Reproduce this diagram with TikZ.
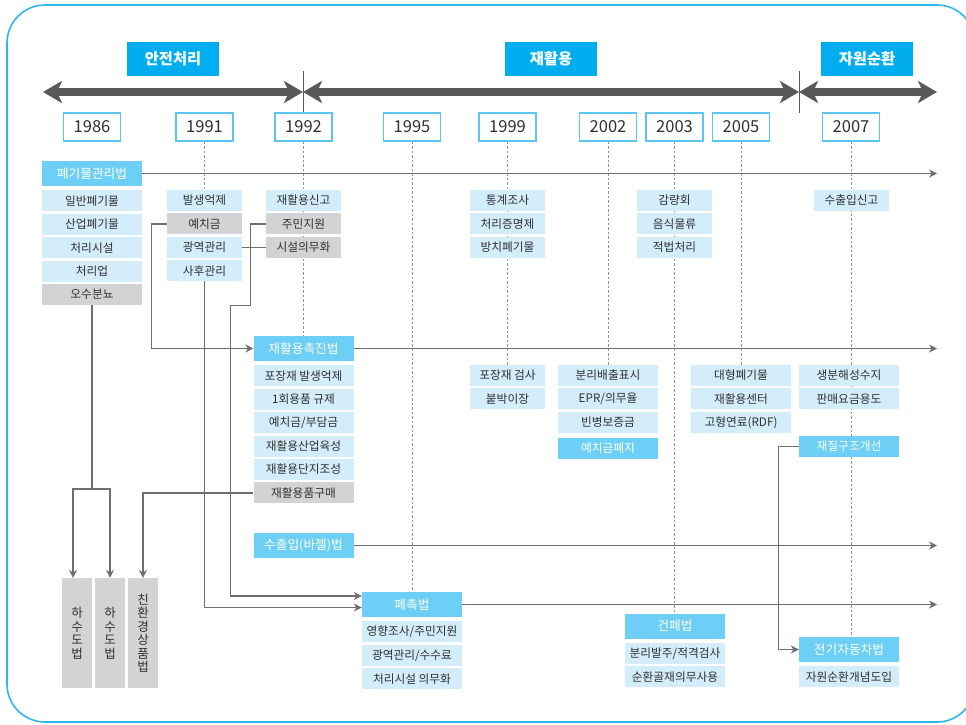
\documentclass[tikz,border=0pt]{standalone}
\usepackage{fontspec}
\setmainfont{Noto Sans CJK KR}
\usepackage{tikz}
\usetikzlibrary{positioning, arrows.meta, backgrounds}
\definecolor{hdrblue}{HTML}{00AEEF}
\definecolor{lawblue}{HTML}{6DCFF6}
\definecolor{itemblue}{HTML}{D4EDFA}
\definecolor{itemgray}{HTML}{D1D3D4}
\definecolor{yearline}{HTML}{5BC4F1}
\definecolor{panelblue}{HTML}{2DB8EB}
\definecolor{barc}{HTML}{58595B}
\definecolor{linec}{HTML}{6D6E70}
\definecolor{txt}{HTML}{303030}
\tikzset{
    >={Stealth[length=8pt,width=8pt]},
    panel/.style={draw=panelblue, line width=1.6pt, rounded corners=38pt},
    era/.style={
        fill=hdrblue, text=white, inner sep=0pt,
        font=\bfseries\fontsize{15.3}{17}\selectfont,
        minimum width=92pt, minimum height=34pt
    },
    year/.style={
        draw=yearline, line width=1.5pt, fill=white, text=txt, inner sep=0pt,
        font=\fontsize{16.5}{18}\selectfont,
        minimum width=57pt, minimum height=28pt
    },
    law/.style={
        fill=lawblue, text=white, inner sep=0pt,
        font=\fontsize{12.7}{14}\selectfont,
        minimum width=100pt, minimum height=25pt
    },
    item/.style={
        fill=itemblue, text=txt, inner sep=0pt,
        font=\fontsize{11.7}{13}\selectfont,
        minimum width=100pt, minimum height=21pt
    },
    narrow/.style={minimum width=75pt},
    oldbox/.style={fill=itemgray},
    newbox/.style={fill=lawblue, text=white},
    sidelaw/.style={
        fill=itemgray, text=txt, inner sep=0pt, align=center,
        font=\fontsize{12.5}{13.5}\selectfont,
        minimum width=30pt, minimum height=110pt
    },
    erabar/.style={
        draw=barc, line width=8pt,
        {Stealth[length=19pt,width=22pt,inset=5pt]}-{Stealth[length=19pt,width=22pt,inset=5pt]}
    },
    divider/.style={draw=barc, line width=1pt},
    flow/.style={draw=linec, line width=1.3pt, ->},
    link/.style={draw=linec, line width=1.3pt},
    guide/.style={draw=gray!85, line width=1pt, dash pattern=on 2.5pt off 2pt},
}

\begin{document}
\begin{tikzpicture}[x=1pt, y=-1pt]
    \useasboundingbox (0,0) rectangle (966,724);
    \draw[panel] (7,5) rectangle (975,722);

    \node[era] (safe)  at (173,59) {안전처리};
    \node[era] (reuse) at (551,59) {재활용};
    \node[era] (cycle) at (867,59) {자원순환};

    \coordinate (e0) at (43,92);
    \coordinate (e1) at (303,92);
    \coordinate (e2) at (799,92);
    \coordinate (e3) at (937,92);
    \draw[erabar] (e0) -- (e1);
    \draw[erabar] (e1) -- (e2);
    \draw[erabar] (e2) -- (e3);
    \draw[divider] ([yshift=21pt]e1) -- ([yshift=-21pt]e1);
    \draw[divider] ([yshift=21pt]e2) -- ([yshift=-21pt]e2);

    \node[year] (y1986) at (92,127)    {1986};
    \node[year] (y1991) at (204.5,127) {1991};
    \node[year] (y1992) at (303.5,127) {1992};
    \node[year] (y1995) at (412,127)   {1995};
    \node[year] (y1999) at (507.5,127) {1999};
    \node[year] (y2002) at (608,127)   {2002};
    \node[year] (y2003) at (674.5,127) {2003};
    \node[year] (y2005) at (741,127)   {2005};
    \node[year] (y2007) at (851,127)   {2007};

    \node[law]          (waste)   at (92,173.5)          {폐기물관리법};
    \node[item]         (gen86)   [below=4pt of waste]   {일반폐기물};
    \node[item]         (ind86)   [below=2pt of gen86]   {산업폐기물};
    \node[item]         (plant86) [below=2pt of ind86]   {처리시설};
    \node[item]         (biz86)   [below=2pt of plant86] {처리업};
    \node[item, oldbox] (sew86)   [below=2pt of biz86]   {오수분뇨};

    \node[item, narrow]         (ctl91)  at (204.5,200.5)        {발생억제};
    \node[item, narrow, oldbox] (dep91)  [below=2pt of ctl91]    {예치금};
    \node[item, narrow]         (reg91)  [below=2pt of dep91]    {광역관리};
    \node[item, narrow]         (post91) [below=2pt of reg91]    {사후관리};

    \node[item, narrow]         (rep92)  at (303.5,200.5)        {재활용신고};
    \node[item, narrow, oldbox] (aid92)  [below=2pt of rep92]    {주민지원};
    \node[item, narrow, oldbox] (fac92)  [below=2pt of aid92]    {시설의무화};

    \node[item, narrow] (stat99)  at (507.5,200.5)       {통계조사};
    \node[item, narrow] (cert99)  [below=2pt of stat99]  {처리증명제};
    \node[item, narrow] (idle99)  [below=2pt of cert99]  {방치폐기물};

    \node[item, narrow] (cut03)   at (674.5,200.5)       {감량회};
    \node[item, narrow] (food03)  [below=2pt of cut03]   {음식물류};
    \node[item, narrow] (legal03) [below=2pt of food03]  {적법처리};

    \node[item, narrow] (exp07)   at (851.5,200.5)       {수출입신고};

    \node[law]          (rp)     at (303.5,348.5)       {재활용촉진법};
    \node[item]         (pkg92)  [below=4pt of rp]      {포장재 발생억제};
    \node[item]         (one92)  [below=2pt of pkg92]   {1회용품 규제};
    \node[item]         (fee92)  [below=2pt of one92]   {예치금/부담금};
    \node[item]         (ind92)  [below=2pt of fee92]   {재활용산업육성};
    \node[item]         (park92) [below=2pt of ind92]   {재활용단지조성};
    \node[item, oldbox] (buy)    [below=2pt of park92]  {재활용품구매};

    \node[item, narrow] (pack99)  at (507.5,375.5)       {포장재 검사};
    \node[item, narrow] (built99) [below=2pt of pack99]  {붙박이장};

    \node[item]         (sep02)    at (608,375.5)          {분리배출표시};
    \node[item]         (epr02)    [below=2pt of sep02]    {EPR/의무율};
    \node[item]         (bottle02) [below=2pt of epr02]    {빈병보증금};
    \node[item, newbox] (end02)    [below=4.5pt of bottle02] {예치금폐지};

    \node[item] (big05)  at (741,375.5)         {대형폐기물};
    \node[item] (ctr05)  [below=2pt of big05]   {재활용센터};
    \node[item] (rdf05)  [below=2pt of ctr05]   {고형연료(RDF)};

    \node[item]         (bio07)  at (849,375.5)         {생분해성수지};
    \node[item]         (sale07) [below=2pt of bio07]   {판매요금용도};
    \node[item, newbox] (mat07)  at (849,446.5)         {재질구조개선};

    \node[law]  (basel) at (303.5,545.5) {수출입(바젤)법};

    \node[law]  (fac)    at (412,604.5)         {폐촉법};
    \node[item] (imp95)  [below=4pt of fac]     {영향조사/주민지원};
    \node[item] (wide95) [below=2pt of imp95]   {광역관리/수수료};
    \node[item] (duty95) [below=2pt of wide95]  {처리시설 의무화};

    \node[law]  (cw)     at (675,626)           {건폐법};
    \node[item] (ord03)  [below=4pt of cw]      {분리발주/적격검사};
    \node[item] (agg03)  [below=2pt of ord03]   {순환골재의무사용};

    \node[law]  (ev)     at (849,649.5)         {전기자동차법};
    \node[item] (idea07) [below=4pt of ev]      {자원순환개념도입};

    \node[sidelaw] (sw1) at (77,633)  {하\\수\\도\\법};
    \node[sidelaw] (sw2) at (110,633) {하\\수\\도\\법};
    \node[sidelaw] (eco) at (143,633) {친\\환\\경\\상\\품\\법};

    \coordinate (rim)  at (937,0);
    \coordinate (fork) at (92,489);
    \draw[flow] (waste) -- (waste -| rim);
    \draw[flow] (rp)    -- (rp -| rim);
    \draw[flow] (basel) -- (basel -| rim);
    \draw[flow] (fac)   -- (fac -| rim);

    \draw[flow] (dep91) -- ([xshift=-15pt]dep91.west) |- (rp);
    \draw[link] (reg91) -- (fac92);
    \draw[flow] (aid92) -- ([xshift=-15pt]aid92.west) -- ++(0,81.5) -- ++(-20,0)
                |- ([yshift=8.5pt]fac.west);
    \draw[flow] (post91) |- ([yshift=-3pt]fac.west);
    \draw[link] (sew86) -- (fork);
    \draw[flow] (fork) -| ([xshift=-4pt]sw1.north);
    \draw[flow] (fork) -| (sw2);
    \draw[flow] (buy) -| (eco);
    \draw[flow] (mat07) -- ([xshift=-20pt]mat07.west) |- (ev);

    \begin{scope}[on background layer]
        \draw[guide] (y1991) -- (y1991 |- ctl91.north);
        \draw[guide] (y1992) -- (y1992 |- rp.north);
        \draw[guide] (y1995) -- (y1995 |- fac.north);
        \draw[guide] (y1999) -- (y1999 |- pack99.north);
        \draw[guide] (y2002) -- (y2002 |- sep02.north);
        \draw[guide] (y2003) -- (y2003 |- cw.north);
        \draw[guide] (y2005) -- (y2005 |- big05.north);
        \draw[guide] (y2007) -- (y2007 |- ev.north);
    \end{scope}
\end{tikzpicture}
\end{document}
